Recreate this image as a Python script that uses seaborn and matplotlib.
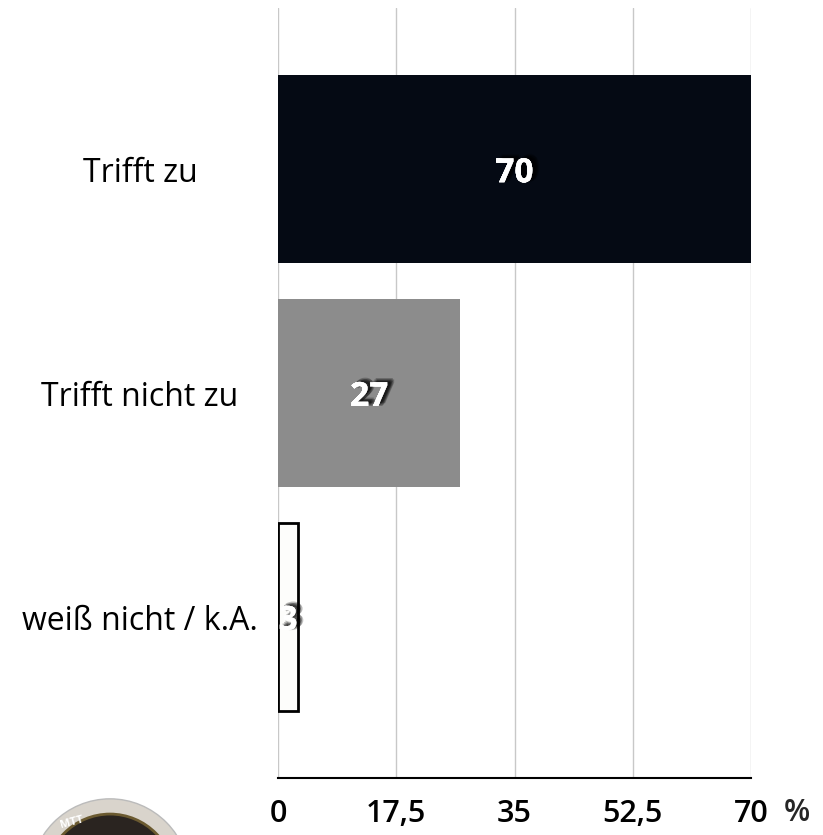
import matplotlib
matplotlib.use("Agg")
import matplotlib.pyplot as plt
import matplotlib.patheffects as pe
from matplotlib.patches import Circle
import seaborn as sns
import pandas as pd

categories = ["Trifft zu", "Trifft nicht zu", "weiß nicht / k.A."]
values = [70, 27, 3]
colors = ["#050a14", "#8c8c8c", "#fdfdfb"]
ticks = [0, 17.5, 35, 52.5, 70]
tick_labels = ["0", "17,5", "35", "52,5", "70"]

sns.set_style("white")
plt.rcParams['font.family'] = ['Open Sans', 'DejaVu Sans']

df = pd.DataFrame({"cat": categories, "val": values})
fig = plt.figure(figsize=(8.23, 8.35), dpi=100)
ax = fig.add_axes([278/823, 1-778/835, (751-278)/823, (778-8)/835])

sns.barplot(data=df, x="val", y="cat", hue="cat", palette=colors, legend=False,
            width=0.84, ax=ax, orient="h", saturation=1)
for i, p in enumerate(ax.patches):
    if i == 2:
        p.set_edgecolor("black")
        p.set_linewidth(2)
    else:
        p.set_edgecolor("none")

ax.set_xlim(0, 70)
ax.set_ylim(2.72, -0.72)
ax.set_xticks(ticks)
ax.set_xticklabels(tick_labels, fontsize=22, fontweight='semibold', color='black')
ax.tick_params(axis='x', length=0, pad=15)
ax.set_yticks([])
ax.set_xlabel("")
ax.set_ylabel("")
for i, c in enumerate(categories):
    ax.text(-138/473*70, i + 0.02, c, ha='center', va='center', fontsize=23, color='black')
ax.grid(axis='x', color='#c8c8c8', linewidth=1)
ax.set_axisbelow(True)
for s in ["top", "right", "left"]:
    ax.spines[s].set_visible(False)
ax.spines["bottom"].set_color("black")
ax.spines["bottom"].set_linewidth(1.5)

shadow = []
for dx, dy in [(2, 1), (3, 2), (4, 1), (3, 0), (5, 2), (4, 3)]:
    shadow.append(pe.withSimplePatchShadow(offset=(dx, dy), shadow_rgbFace='black', alpha=0.25))
for i, v in enumerate(values):
    t = ax.text(v/2, i + 0.02, str(v), ha='center', va='center', color='white', fontsize=24,
                fontweight='bold')
    t.set_path_effects(shadow)

fig.text(797/823, 1-813/835, "%", fontsize=22, ha='center', va='center', fontweight='semibold')

# logo badge (partially visible)
badge = Circle((110/823, 1-880/835), 80/823, transform=fig.transFigure, facecolor="#d9d4cc", edgecolor="#bbbbbb", zorder=0)
fig.patches.append(badge)
badge2 = Circle((110/823, 1-880/835), 65/823, transform=fig.transFigure, facecolor="#2a2420", edgecolor="#6b5a30", lw=2, zorder=0)
fig.patches.append(badge2)
fig.text(72/823, 1-823/835, "MTT", fontsize=8, color="white", fontweight="bold", ha="center", va="center", rotation=15)

fig.savefig("out.png", dpi=100)
